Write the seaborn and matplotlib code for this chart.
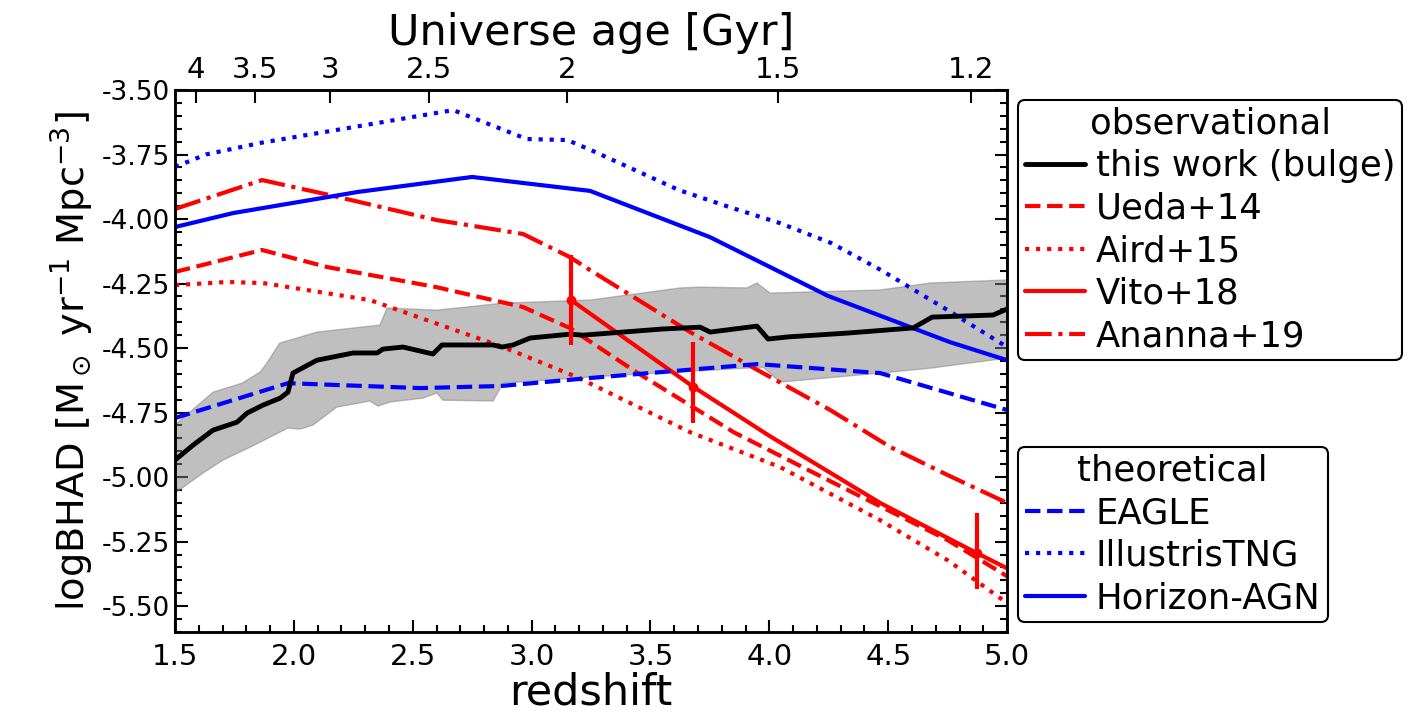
import numpy as np
import matplotlib
matplotlib.use('Agg')
import matplotlib.pyplot as plt
import seaborn as sns
from matplotlib.ticker import MultipleLocator, FormatStrFormatter, NullLocator

sns.set_style('ticks')
plt.rcParams['font.family'] = ['DejaVu Sans']
plt.rcParams['mathtext.fontset'] = 'dejavusans'
for key in ['text.color', 'axes.labelcolor', 'xtick.color', 'ytick.color', 'axes.edgecolor']:
    plt.rcParams[key] = 'black'

# this work (bulge): median line and shaded band
z_work = [1.5, 1.576, 1.66, 1.761, 1.803, 1.87, 1.942, 1.975, 1.996, 2.097, 2.249, 2.35,
          2.375, 2.459, 2.585, 2.623, 2.838, 2.876, 2.922, 2.994, 3.162, 3.216, 3.553,
          3.709, 3.751, 3.948, 3.995, 4.075, 4.327, 4.605, 4.685, 4.941, 5.0]
bhad_work = [-4.934, -4.876, -4.818, -4.787, -4.752, -4.721, -4.694, -4.671, -4.597, -4.547,
             -4.519, -4.519, -4.504, -4.496, -4.523, -4.488, -4.488, -4.496, -4.488, -4.461,
             -4.446, -4.450, -4.426, -4.419, -4.438, -4.415, -4.465, -4.457, -4.442, -4.422,
             -4.380, -4.372, -4.349]
z_band_hi = [1.5, 1.66, 1.782, 1.858, 1.887, 1.94, 2.097, 2.362, 2.392, 2.602, 2.88, 3.246,
             3.625, 3.709, 3.906, 3.948, 4.003, 4.466, 4.676, 5.0]
band_hi = [-4.798, -4.671, -4.636, -4.593, -4.558, -4.481, -4.438, -4.411, -4.345, -4.353,
           -4.326, -4.314, -4.267, -4.264, -4.267, -4.248, -4.287, -4.275, -4.248, -4.236]
z_band_lo = [1.5, 1.618, 1.702, 1.816, 1.9, 1.975, 2.026, 2.081, 2.18, 2.32, 2.354, 2.405,
             2.543, 2.602, 2.627, 2.838, 2.88, 3.246, 3.974, 4.045, 4.466, 4.676, 5.0]
band_lo = [-5.062, -4.984, -4.934, -4.884, -4.845, -4.81, -4.814, -4.798, -4.729, -4.705,
           -4.725, -4.709, -4.694, -4.674, -4.702, -4.705, -4.636, -4.612, -4.574, -4.632,
           -4.597, -4.578, -4.539]

# observational
z_ueda = [1.5, 1.866, 2.14, 2.6, 2.964, 3.16, 3.44, 3.85, 4.33, 4.75, 5.0]
bhad_ueda = [-4.205, -4.12, -4.186, -4.264, -4.341, -4.422, -4.593, -4.826, -5.05, -5.244, -5.384]
z_aird = [1.5, 1.72, 1.87, 2.32, 2.88, 3.19, 3.667, 4.045, 4.466, 4.75, 5.0]
bhad_aird = [-4.256, -4.244, -4.248, -4.314, -4.496, -4.612, -4.826, -4.961, -5.167, -5.322, -5.488]
z_vito = [3.166, 3.68, 4.0, 4.466, 4.874, 5.0]
bhad_vito = [-4.314, -4.650, -4.84, -5.10, -5.295, -5.353]
z_vito_pts = [3.166, 3.68, 4.874]
bhad_vito_pts = [-4.314, -4.650, -5.295]
err_vito_lo = [0.174, 0.14, 0.139]
err_vito_hi = [0.174, 0.173, 0.155]
z_ananna = [1.5, 1.866, 2.15, 2.6, 2.964, 3.16, 3.246, 3.667, 3.95, 4.256, 4.51, 4.75, 5.0]
bhad_ananna = [-3.961, -3.849, -3.907, -4.004, -4.058, -4.147, -4.198, -4.438, -4.585, -4.74,
               -4.884, -4.992, -5.10]

# theoretical
z_eagle = [1.5, 1.975, 2.53, 2.87, 3.246, 3.95, 4.466, 5.0]
bhad_eagle = [-4.771, -4.636, -4.655, -4.647, -4.616, -4.562, -4.597, -4.74]
z_tng = [1.5, 1.63, 1.86, 2.67, 2.98, 3.15, 3.25, 3.41, 3.62, 3.83, 4.045, 4.26, 4.47, 4.75, 5.0]
bhad_tng = [-3.798, -3.75, -3.705, -3.578, -3.69, -3.694, -3.733, -3.80, -3.888, -3.953,
            -4.016, -4.093, -4.198, -4.353, -4.496]
z_hagn = [1.5, 1.744, 2.27, 2.75, 3.246, 3.75, 4.247, 4.76, 5.0]
bhad_hagn = [-4.031, -3.977, -3.895, -3.837, -3.891, -4.07, -4.298, -4.477, -4.547]

age_ticks = [4, 3.5, 3, 2.5, 2, 1.5, 1.2]
age_labels = ['4', '3.5', '3', '2.5', '2', '1.5', '1.2']


def z_of_age(t, h0=70.0, om=0.3):
    # flat LCDM, inverse of the age-redshift relation
    ol = 1.0 - om
    th = 977.8 / h0
    k = 2.0 / (3.0 * np.sqrt(ol)) * th
    return (np.sqrt(ol / om) / np.sinh(np.asarray(t) / k)) ** (2.0 / 3.0) - 1.0


fig = plt.figure(figsize=(14.24, 7.17), dpi=100)
ax = fig.add_axes([0.1229, 0.1186, 0.5843, 0.7559])

ax.fill(np.r_[z_band_hi, z_band_lo[::-1]], np.r_[band_hi, band_lo[::-1]],
        color='gray', alpha=0.5, lw=1, zorder=1)

lw = 3
sns.lineplot(x=z_work, y=bhad_work, ax=ax, color='black', lw=3.5, zorder=5)
h_work = ax.lines[-1]
sns.lineplot(x=z_ueda, y=bhad_ueda, ax=ax, color='red', lw=lw, linestyle='--')
h_ueda = ax.lines[-1]
sns.lineplot(x=z_aird, y=bhad_aird, ax=ax, color='red', lw=lw, linestyle=':')
h_aird = ax.lines[-1]
sns.lineplot(x=z_vito, y=bhad_vito, ax=ax, color='red', lw=lw, linestyle='-')
h_vito = ax.lines[-1]
sns.lineplot(x=z_ananna, y=bhad_ananna, ax=ax, color='red', lw=lw, linestyle='-.')
h_ananna = ax.lines[-1]
ax.errorbar(z_vito_pts, bhad_vito_pts, yerr=[err_vito_lo, err_vito_hi], fmt='o',
            color='red', ms=6, elinewidth=3, capsize=0, zorder=6)

sns.lineplot(x=z_eagle, y=bhad_eagle, ax=ax, color='blue', lw=lw, linestyle='--')
h_eagle = ax.lines[-1]
sns.lineplot(x=z_tng, y=bhad_tng, ax=ax, color='blue', lw=lw, linestyle=':')
h_tng = ax.lines[-1]
sns.lineplot(x=z_hagn, y=bhad_hagn, ax=ax, color='blue', lw=lw, linestyle='-')
h_hagn = ax.lines[-1]

ax.set_xlim(1.5, 5.0)
ax.set_ylim(-5.6, -3.5)
ax.xaxis.set_major_locator(MultipleLocator(0.5))
ax.xaxis.set_minor_locator(MultipleLocator(0.1))
ax.yaxis.set_major_locator(MultipleLocator(0.25))
ax.yaxis.set_minor_locator(MultipleLocator(0.05))
ax.yaxis.set_major_formatter(FormatStrFormatter('%.2f'))
ax.xaxis.set_major_formatter(FormatStrFormatter('%.1f'))
ax.tick_params(which='both', direction='in', right=True, top=False, width=1.5)
ax.tick_params(which='major', length=9)
ax.tick_params(which='minor', length=5)
ax.tick_params(axis='y', labelsize=19)
ax.tick_params(axis='x', labelsize=21, pad=8)
for s in ax.spines.values():
    s.set_linewidth(1.8)

ax.set_xlabel('redshift', fontsize=31, labelpad=0)
ax.set_ylabel(r'logBHAD [M$_\odot$ yr$^{-1}$ Mpc$^{-3}$]', fontsize=27.5, labelpad=4)

ax2 = ax.twiny()
ax2.set_xlim(ax.get_xlim())
ax2.set_xticks(z_of_age(age_ticks))
ax2.set_xticklabels(age_labels, fontsize=21)
ax2.tick_params(direction='in', length=9, width=1.5, pad=4)
ax2.xaxis.set_minor_locator(NullLocator())
ax2.set_xlabel('Universe age [Gyr]', fontsize=31, labelpad=8)
for s in ax2.spines.values():
    s.set_linewidth(1.8)

leg_kw = dict(fontsize=25.5, title_fontsize=25.5, labelspacing=0.24, handlelength=1.7,
              handletextpad=0.3, borderpad=0.2, borderaxespad=0, fancybox=True,
              framealpha=1, edgecolor='black')
leg1 = ax.legend(handles=[h_work, h_ueda, h_aird, h_vito, h_ananna],
                 labels=['this work (bulge)', 'Ueda+14', 'Aird+15', 'Vito+18', 'Ananna+19'],
                 title='observational', loc='upper left', bbox_to_anchor=(1.013, 0.982),
                 **leg_kw)
leg1.get_frame().set_linewidth(1.5)
ax.add_artist(leg1)
leg2 = ax.legend(handles=[h_eagle, h_tng, h_hagn],
                 labels=['EAGLE', 'IllustrisTNG', 'Horizon-AGN'],
                 title='theoretical', loc='lower left', bbox_to_anchor=(1.013, 0.018),
                 **leg_kw)
leg2.get_frame().set_linewidth(1.5)

fig.savefig('out.png', dpi=100)
